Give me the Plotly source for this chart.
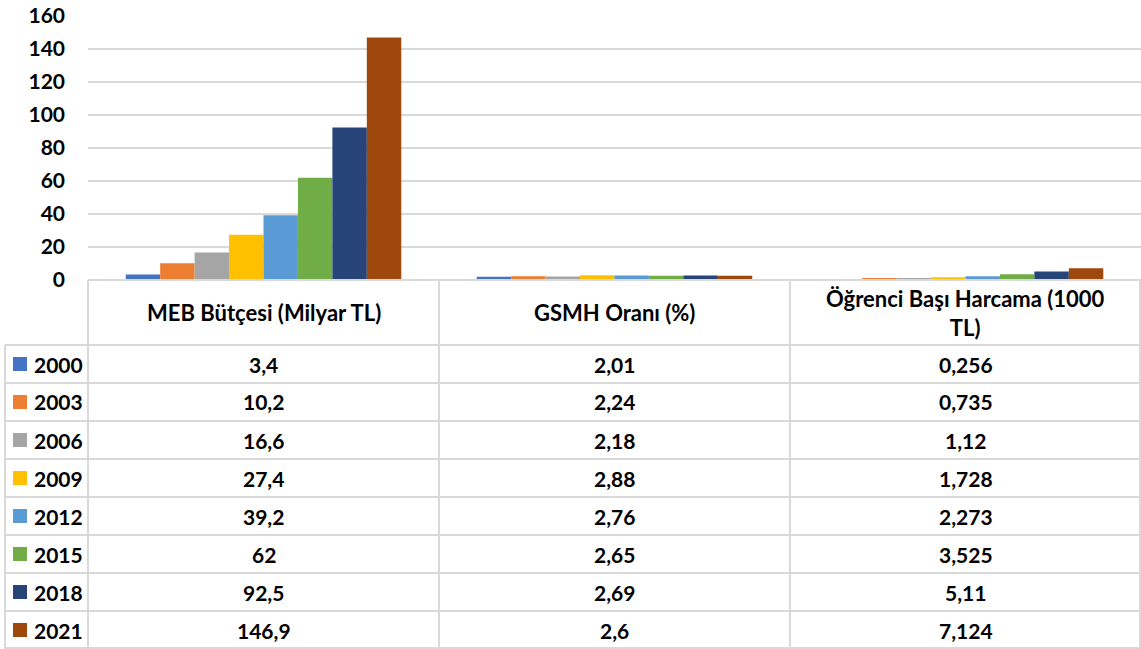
import plotly.graph_objects as go

categories = ["MEB Bütçesi (Milyar TL)", "GSMH Oranı (%)", "Öğrenci Başı Harcama (1000 TL)"]
header_labels = ["MEB Bütçesi (Milyar TL)", "GSMH Oranı (%)", "Öğrenci Başı Harcama (1000<br>TL)"]
years = ["2000", "2003", "2006", "2009", "2012", "2015", "2018", "2021"]
meb_budget = [3.4, 10.2, 16.6, 27.4, 39.2, 62, 92.5, 146.9]
gsmh_ratio = [2.01, 2.24, 2.18, 2.88, 2.76, 2.65, 2.69, 2.6]
per_student = [0.256, 0.735, 1.12, 1.728, 2.273, 3.525, 5.11, 7.124]
y_ticks = [0, 20, 40, 60, 80, 100, 120, 140, 160]
colors = ["#4472C4", "#ED7D31", "#A5A5A5", "#FFC000", "#5B9BD5", "#70AD47", "#264478", "#9E480E"]

W, H = 1141, 649
FONT = "Lato"
LINE = "#D9D9D9"

def px(x):
    return x / W

def py(y):
    return (H - y) / H

def fmt(v):
    return f"{v:g}".replace(".", ",")

fig = go.Figure()
for i, yr in enumerate(years):
    vals = [meb_budget[i], gsmh_ratio[i], per_student[i]]
    fig.add_trace(go.Bar(
        name=yr, x=categories, y=vals,
        marker=dict(color=colors[i], line=dict(width=0)),
    ))

plot_left, plot_top, plot_bottom = 88, 16, 280
header_bottom = 345
row_h = 38

shapes = []
shapes.append(dict(type="line", xref="paper", yref="paper",
                   x0=px(plot_left), x1=1, y0=py(plot_bottom), y1=py(plot_bottom),
                   line=dict(color=LINE, width=2)))
col_w = (W - plot_left) / 3
for k in range(4):
    xx = plot_left + col_w * k
    if k == 3:
        xx = W - 1
    shapes.append(dict(type="line", xref="paper", yref="paper",
                       x0=px(xx), x1=px(xx), y0=py(plot_bottom), y1=0,
                       line=dict(color=LINE, width=2)))
shapes.append(dict(type="line", xref="paper", yref="paper",
                   x0=px(5), x1=px(5), y0=py(header_bottom), y1=0,
                   line=dict(color=LINE, width=2)))
for r in range(len(years) + 1):
    yy = header_bottom + row_h * r
    if r == len(years):
        yy = H - 1
    shapes.append(dict(type="line", xref="paper", yref="paper",
                       x0=px(5), x1=1, y0=py(yy), y1=py(yy),
                       line=dict(color=LINE, width=2)))

annotations = []
tfont = dict(family=FONT, size=21, color="#000000", weight="bold")
hfont = dict(family=FONT, size=22, color="#000000", weight="bold")
for c, lab in zip(categories, header_labels):
    annotations.append(dict(x=c, xref="x", y=py((plot_bottom + header_bottom) / 2), yref="paper",
                            text=lab, showarrow=False, font=hfont, xanchor="center", yanchor="middle"))
series = [meb_budget, gsmh_ratio, per_student]
for r, yr in enumerate(years):
    yc = header_bottom + row_h * r + row_h / 2
    shapes.append(dict(type="rect", xref="paper", yref="paper",
                       x0=px(13), x1=px(27), y0=py(yc + 7), y1=py(yc - 7),
                       fillcolor=colors[r], line=dict(width=0)))
    annotations.append(dict(x=px(32), xref="paper", y=py(yc), yref="paper",
                            text=yr, showarrow=False, font=tfont, xanchor="left", yanchor="middle"))
    for c, s in zip(categories, series):
        annotations.append(dict(x=c, xref="x", y=py(yc), yref="paper",
                                text=fmt(s[r]), showarrow=False, font=tfont,
                                xanchor="center", yanchor="middle"))

fig.update_layout(
    width=W, height=H,
    margin=dict(l=0, r=0, t=0, b=0, autoexpand=False),
    paper_bgcolor="white", plot_bgcolor="white",
    barmode="group", bargap=0.215, bargroupgap=0,
    showlegend=False,
    shapes=shapes, annotations=annotations,
    xaxis=dict(domain=[px(plot_left), 1], showticklabels=False, showgrid=False,
               showline=False, zeroline=False, fixedrange=True, automargin=False),
    yaxis=dict(domain=[py(plot_bottom), py(plot_top)], range=[0, 160],
               tickvals=y_ticks, ticktext=[f"<b>{t}</b>" for t in y_ticks],
               showgrid=True, gridcolor=LINE, gridwidth=1.5, zeroline=False, showline=False,
               tickfont=dict(family=FONT, size=21, color="#000000", weight="bold"),
               ticklabelstandoff=22, automargin=False),
)

fig.write_html(
    "out.html",
    config={"displayModeBar": False},
    post_script="document.body.style.margin='0';document.body.style.overflow='hidden';",
)
